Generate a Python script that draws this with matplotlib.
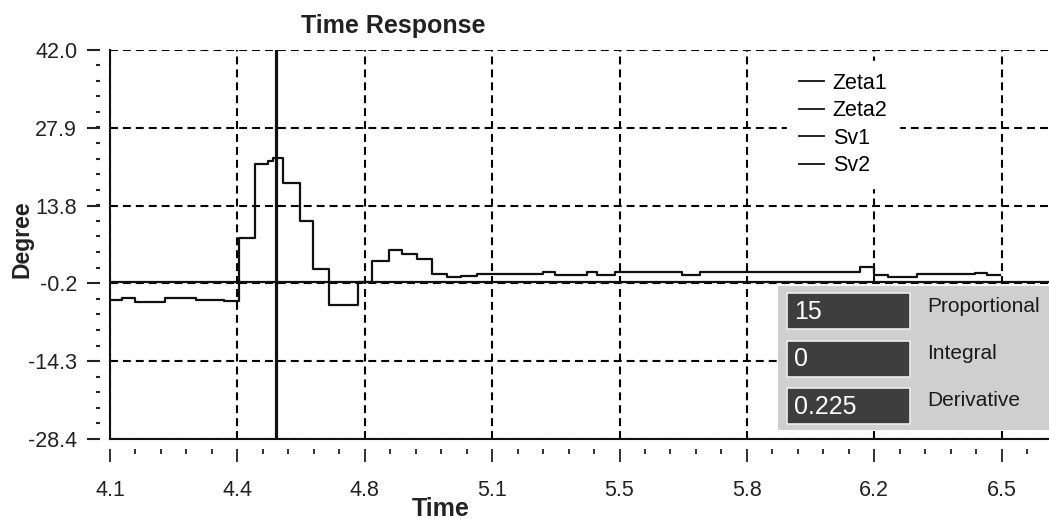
import numpy as np
import matplotlib.pyplot as plt
from matplotlib.patches import Rectangle
from matplotlib.lines import Line2D
from matplotlib.ticker import AutoMinorLocator

plt.rcParams['font.family'] = ['Liberation Sans', 'DejaVu Sans']

# step response (time in s, angle in degree)
zeta1_t = [4.100, 4.133, 4.169, 4.251, 4.336, 4.413, 4.454, 4.493, 4.498, 4.534,
           4.548, 4.575, 4.622, 4.658, 4.702, 4.781, 4.820, 4.866, 4.902, 4.943,
           4.985, 5.026, 5.064, 5.108, 5.289, 5.322, 5.410, 5.438, 5.487, 5.671,
           5.721, 6.160, 6.199, 6.237, 6.317, 6.476, 6.509, 6.545]
zeta1_v = [-3.3, -2.9, -3.6, -2.9, -3.2, -3.5, 7.9, 7.9, 21.3, 22.0,
           22.5, 17.9, 11.0, 2.3, -4.1, 0.1, 3.8, 5.8, 5.1, 4.2,
           1.5, 1.0, 1.1, 1.4, 1.9, 1.3, 1.8, 1.2, 1.8, 1.2,
           1.8, 2.7, 1.2, 1.0, 1.5, 1.6, 1.2, 1.2]

sv1_t = [4.1, 6.68]
sv1_v = [0.0, 0.0]
cursor_t = 4.555

series_names = ['Zeta1', 'Zeta2', 'Sv1', 'Sv2']

xticks = [4.1, 4.45, 4.8, 5.15, 5.5, 5.85, 6.2, 6.55]
xtick_labels = ['4.1', '4.4', '4.8', '5.1', '5.5', '5.8', '6.2', '6.5']
yticks = [-28.4, -14.3, -0.2, 13.8, 27.9, 42.0]
ytick_labels = ['-28.4', '-14.3', '-0.2', '13.8', '27.9', '42.0']

pid_names = ['Proportional', 'Integral', 'Derivative']
pid_values = ['15', '0', '0.225']

W, H = 1049, 519
fig = plt.figure(figsize=(W / 100, H / 100), dpi=100)
ax = fig.add_axes([110 / W, 80 / H, 939 / W, 389 / H])

ax.set_xlim(4.1, 6.68)
ax.set_ylim(-28.4, 42.0)

dash = (0, (3.8, 2.4))
ax.grid(True, which='major', color='black', lw=1.5, ls=dash, zorder=1)
ax.set_axisbelow(True)

ax.plot(sv1_t, sv1_v, color='#111111', lw=1.6, zorder=3)
ax.plot(zeta1_t, zeta1_v, color='#111111', lw=1.6, drawstyle='steps-post', zorder=4)
ax.axvline(cursor_t, color='#111111', lw=2.3, zorder=5)

# axis lines drawn on the data edges, ticks sit a bit outside
ax.axvline(4.1, color='#111111', lw=1.5, clip_on=False, zorder=6)
ax.axhline(-28.4, color='#111111', lw=1.5, clip_on=False, zorder=6)
for s in ['top', 'right']:
    ax.spines[s].set_visible(False)
for s in ['left', 'bottom']:
    ax.spines[s].set_position(('outward', 7.2))
    ax.spines[s].set_color('none')

ax.set_xticks(xticks)
ax.set_xticklabels(xtick_labels)
ax.set_yticks(yticks)
ax.set_yticklabels(ytick_labels)
ax.xaxis.set_minor_locator(AutoMinorLocator(5))
ax.yaxis.set_minor_locator(AutoMinorLocator(5))
ax.tick_params(axis='y', which='major', length=9.4, width=1.5, pad=7, labelsize=15.5, colors='#222222')
ax.tick_params(axis='y', which='minor', length=3, width=1.5, colors='#222222')
ax.tick_params(axis='x', which='major', length=9.4, width=1.3, pad=13, labelsize=15.5, colors='#222222')
ax.tick_params(axis='x', which='minor', length=3.6, width=1.3, colors='#222222')

handles = [Line2D([], [], color='#111111', lw=1.3) for _ in series_names]
leg = ax.legend(handles, series_names, loc='upper left',
                bbox_to_anchor=(787 / W, 1 - 61 / H), bbox_transform=fig.transFigure,
                fontsize=15.5, frameon=True, fancybox=False, facecolor='white',
                edgecolor='white', framealpha=1, borderaxespad=0, borderpad=0.55,
                labelspacing=0.3, handlelength=1.15, handletextpad=0.42)
leg.set_zorder(7)

fig.text(393 / W, 1 - 33 / H, 'Time Response', fontsize=18, weight='bold',
         ha='center', va='baseline', color='#222222')
fig.text(441 / W, 1 - 509 / H, 'Time', fontsize=18, weight='bold',
         ha='center', va='center', color='#222222')
fig.text(22 / W, 1 - 239 / H, 'Degree', fontsize=16.5, weight='bold', rotation=90,
         ha='center', va='center', color='#222222')

# PID gain panel laid over the lower right of the plot
ov = fig.add_axes([0, 0, 1, 1], zorder=10)
ov.set_xlim(0, W)
ov.set_ylim(H, 0)
ov.axis('off')
ov.patch.set_alpha(0)
ov.add_patch(Rectangle((778, 286), 271, 144, fc='#cfcfcf', ec='none'))
for i, (name, val) in enumerate(zip(pid_names, pid_values)):
    top = 293 + i * 47.5
    ov.add_patch(Rectangle((787, top), 123, 36, fc='#3e3e3e', ec='#ececec', lw=1.2))
    ov.text(794, top + 19, val, color='white', fontsize=18,
            ha='left', va='center')
    ov.text(927, top + 13, name, color='#1a1a1a', fontsize=15,
            ha='left', va='center')

fig.savefig('out.png', dpi=100)
